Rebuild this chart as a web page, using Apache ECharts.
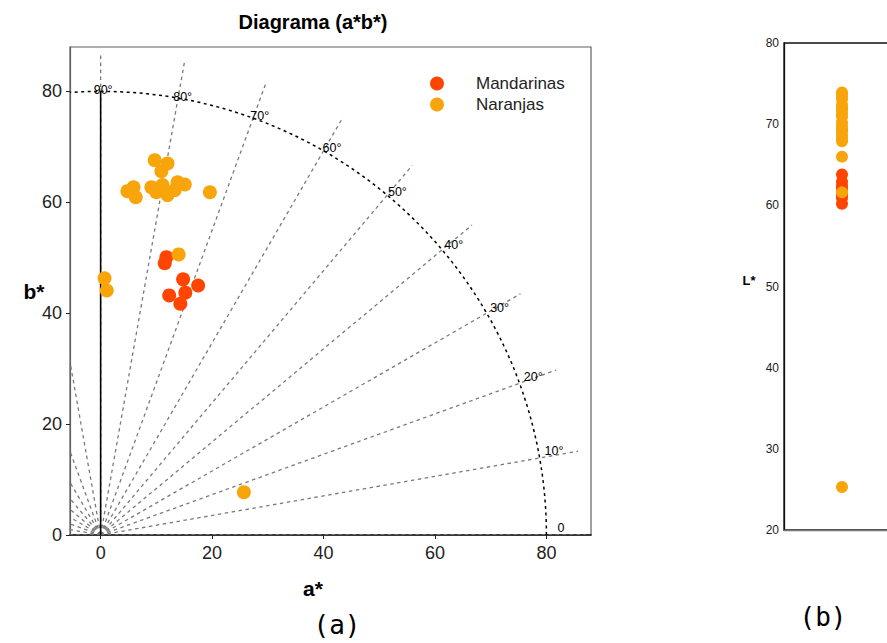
<!DOCTYPE html>
<html><head><meta charset="utf-8">
<script src="https://cdn.jsdelivr.net/npm/echarts@6/dist/echarts.min.js"></script>
<style>html,body{margin:0;padding:0;background:#fff}#c{width:887px;height:643px}</style>
</head><body><div id="c"></div>
<script>
// ---- data ----
const seriesNames = ['Mandarinas', 'Naranjas'];
const mandA = [11.8, 11.5, 14.8, 17.5, 12.3, 15.2, 14.3];
const mandB = [50.1, 49.0, 46.1, 45.0, 43.2, 43.7, 41.7];
const narA = [9.7, 12.0, 10.9, 4.8, 5.9, 6.3, 9.1, 10.0, 12.0, 13.3, 13.8, 15.1, 11.1, 19.6, 14.0, 0.7, 1.1, 25.7];
const narB = [67.6, 67.0, 65.6, 62.0, 62.7, 60.9, 62.7, 61.8, 61.3, 62.2, 63.6, 63.2, 63.1, 61.8, 50.6, 46.3, 44.1, 7.7];
const mandL = [63.8, 62.9, 62.4, 62.0, 61.3, 60.9, 60.2];
const narL = [73.9, 73.5, 73.1, 72.4, 72.0, 71.8, 71.3, 70.9, 70.2, 69.7, 69.4, 69.1, 68.6, 68.2, 67.9, 66.0, 61.6, 25.3];
const abTicks = [0, 20, 40, 60, 80];
const lTicks = [20, 30, 40, 50, 60, 70, 80];
const lCategories = [''];
const rayAngles = [0, 10, 20, 30, 40, 50, 60, 70, 80, 90, 100, 110, 120, 130, 140, 150, 160, 170, 180];
const hueAngles = [0, 10, 20, 30, 40, 50, 60, 70, 80, 90];
const hueLabels = ['0', '10°', '20°', '30°', '40°', '50°', '60°', '70°', '80°', '90°'];
const chromaRadius = 80;
const rayLength = 87;
const originRadius = 1.7;
const colors = ['#FF4500', '#F8A50B'];

const FONT = 'Liberation Sans, Arial, sans-serif';
const rad = d => d * Math.PI / 180;

const chart = echarts.init(document.getElementById('c'), null, {renderer: 'svg'});

const rayData = rayAngles.map(a => [a, 0]);
const labelData = hueAngles.map((a, i) => [a, 0, i]);

const option = {
  animation: false,
  backgroundColor: '#fff',
  legend: {
    orient: 'vertical', left: 425, top: 70, itemWidth: 14, itemHeight: 14, itemGap: 4,
    icon: 'circle', data: seriesNames,
    textStyle: {fontSize: 17, color: '#222', fontFamily: FONT, padding: [0, 0, 0, 27]}
  },
  grid: [
    {left: 70, top: 47, width: 521, height: 488, show: true, borderColor: '#606060', borderWidth: 1.2, containLabel: false, outerBoundsMode: 'none'},
    {left: 784, top: 43, width: 116, height: 487, show: true, borderColor: '#111', borderWidth: 1.3, containLabel: false, outerBoundsMode: 'none'}
  ],
  xAxis: [
    {type: 'value', gridIndex: 0, min: -5.5, max: 88, splitLine: {show: false},
     axisLine: {onZero: false, lineStyle: {color: '#111', width: 1.6}},
     axisTick: {customValues: abTicks, length: 4, lineStyle: {color: '#222'}},
     axisLabel: {customValues: abTicks, fontSize: 18, color: '#222', margin: 9, fontFamily: FONT}},
    {type: 'category', gridIndex: 1, data: lCategories,
     axisLine: {lineStyle: {color: '#777', width: 1.3}},
     axisTick: {alignWithLabel: true, length: 3, lineStyle: {color: '#222'}},
     axisLabel: {show: false}}
  ],
  yAxis: [
    {type: 'value', gridIndex: 0, min: 0, max: 88, splitLine: {show: false},
     axisLine: {show: true, onZero: false, lineStyle: {color: '#606060', width: 1.2}},
     axisTick: {customValues: abTicks, length: 4, lineStyle: {color: '#222'}},
     axisLabel: {customValues: abTicks, fontSize: 18, color: '#222', margin: 8, fontFamily: FONT}},
    {type: 'value', gridIndex: 1, min: 20, max: 80, interval: 10, splitLine: {show: false},
     axisLine: {show: true, onZero: false, lineStyle: {color: '#111', width: 1.3}},
     axisTick: {length: 3, lineStyle: {color: '#222'}},
     axisLabel: {fontSize: 12, color: '#222', margin: 5, fontFamily: FONT}}
  ],
  series: [
    // hue rays
    {type: 'custom', xAxisIndex: 0, yAxisIndex: 0, clip: true, silent: true, z: 1,
     data: rayData, encode: {x: 0, y: 1},
     renderItem: (params, api) => {
       const t = rad(api.value(0));
       const p0 = api.coord([0, 0]);
       const p1 = api.coord([rayLength * Math.cos(t), rayLength * Math.sin(t)]);
       return {type: 'line', shape: {x1: p0[0], y1: p0[1], x2: p1[0], y2: p1[1]},
               style: {stroke: '#7a7a7a', lineWidth: 1.3, lineDash: [3.5, 3.5], fill: null}};
     }},
    // chroma 80 arc and origin arc
    {type: 'custom', xAxisIndex: 0, yAxisIndex: 0, clip: true, silent: true, z: 2,
     data: [[chromaRadius, 0, 0], [originRadius, 0, 1]], encode: {x: 2, y: 1},
     renderItem: (params, api) => {
       const r = params.dataIndex === 0 ? chromaRadius : originRadius;
       const pts = [];
       for (let d = 0; d <= 180; d += 1) pts.push(api.coord([r * Math.cos(rad(d)), r * Math.sin(rad(d))]));
       return {type: 'polyline', shape: {points: pts},
               style: params.dataIndex === 0
                 ? {stroke: '#000', lineWidth: 1.5, lineDash: [3, 3.5], fill: null}
                 : {stroke: '#7a7a7a', lineWidth: 1.3, lineDash: [2.5, 2], fill: null}};
     }},
    // b* axis solid line
    {type: 'custom', xAxisIndex: 0, yAxisIndex: 0, clip: true, silent: true, z: 2,
     data: [[0, chromaRadius]], encode: {x: 0, y: 1},
     renderItem: (params, api) => {
       const p0 = api.coord([0, 0]);
       const p1 = api.coord([0, chromaRadius]);
       return {type: 'line', shape: {x1: p0[0], y1: p0[1], x2: p1[0], y2: p1[1]},
               style: {stroke: '#000', lineWidth: 1.6}};
     }},
    // hue labels
    {type: 'custom', xAxisIndex: 0, yAxisIndex: 0, clip: false, silent: true, z: 4,
     data: labelData, encode: {x: 1, y: 1},
     renderItem: (params, api) => {
       const a = api.value(0);
       const t = rad(a);
       const p = api.coord([chromaRadius * Math.cos(t), chromaRadius * Math.sin(t)]);
       const c = Math.cos(t);
       return {type: 'text', x: p[0] + 2.5 + 12 * c, y: p[1] - 1 - 6 * c * c,
               style: {text: hueLabels[api.value(2)], fontSize: 12.5, fill: '#000', stroke: null, lineWidth: 0, fontFamily: FONT,
                       align: 'center', verticalAlign: 'middle'}};
     }},
    {name: seriesNames[0], type: 'scatter', xAxisIndex: 0, yAxisIndex: 0, z: 5, symbolSize: 14,
     itemStyle: {color: colors[0], opacity: 1},
     data: mandA.map((a, i) => [a, mandB[i]])},
    {name: seriesNames[1], type: 'scatter', xAxisIndex: 0, yAxisIndex: 0, z: 6, symbolSize: 14,
     itemStyle: {color: colors[1], opacity: 1},
     data: narA.map((a, i) => [a, narB[i]])},
    {name: seriesNames[0], type: 'scatter', xAxisIndex: 1, yAxisIndex: 1, z: 5, symbolSize: 12,
     itemStyle: {color: colors[0], opacity: 1},
     data: mandL.map(l => [lCategories[0], l])},
    {name: seriesNames[1], type: 'scatter', xAxisIndex: 1, yAxisIndex: 1, z: 6, symbolSize: 12,
     itemStyle: {color: colors[1], opacity: 1},
     data: narL.map(l => [lCategories[0], l])}
  ],
  graphic: [
    {type: 'text', x: 313, y: 22, style: {text: 'Diagrama (a*b*)', fontSize: 20, fontWeight: 'bold', fill: '#000', fontFamily: FONT, align: 'center', verticalAlign: 'middle'}},
    {type: 'text', x: 313, y: 588, style: {text: 'a*', fontSize: 21, fontWeight: 'bold', fill: '#000', fontFamily: FONT, align: 'center', verticalAlign: 'middle'}},
    {type: 'text', x: 34, y: 291, style: {text: 'b*', fontSize: 21, fontWeight: 'bold', fill: '#000', fontFamily: FONT, align: 'center', verticalAlign: 'middle'}},
    {type: 'text', x: 749, y: 280, style: {text: 'L*', fontSize: 13, fontWeight: 'bold', fill: '#000', fontFamily: FONT, align: 'center', verticalAlign: 'middle'}},
    {type: 'text', x: 337, y: 625, style: {text: '(a)', fontSize: 26, fill: '#000', fontFamily: 'DejaVu Sans Mono, monospace', align: 'center', verticalAlign: 'middle'}},
    {type: 'text', x: 823, y: 617, style: {text: '(b)', fontSize: 26, fill: '#000', fontFamily: 'DejaVu Sans Mono, monospace', align: 'center', verticalAlign: 'middle'}}
  ]
};
chart.setOption(option);
</script>
</body></html>
